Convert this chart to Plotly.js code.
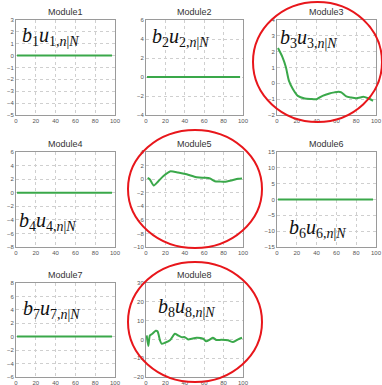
<!DOCTYPE html>
<html><head><meta charset="utf-8">
<script src="https://cdn.plot.ly/plotly-3.0.1.min.js"></script>
<style>html,body{margin:0;padding:0;background:#fff}#chart{width:382px;height:385px}</style>
</head><body><div id="chart"></div>
<script>
// ---- data ----
const moduleNames = ["Module1","Module2","Module3","Module4","Module5","Module6","Module7","Module8"];
const xTicks = [0,20,40,60,80,100];
const flatX = [1,97];
const m1Y = [0,0];
const m2Y = [0,0];
const m4Y = [0,0];
const m6Y = [0,0];
const m7Y = [0.05,0.05];
const m3X = [1,5.5,9,12,16,21,28,34,40,46,53,58,62,65,70,75,80,84,87,92,97];
const m3Y = [2.23,1.66,1.02,0.17,-0.36,-0.79,-0.96,-0.99,-1.0,-0.79,-0.64,-0.57,-0.53,-0.57,-0.83,-0.9,-0.94,-0.9,-0.85,-0.94,-1.1];
const m5X = [1.7,4,8,12.7,18,24.7,33,42,50,55,60.6,66,71,76,81,88,95,99];
const m5Y = [0.2,-0.05,-0.93,-0.3,0.46,1.14,0.98,0.72,0.36,0.25,0.2,0.1,-0.3,-0.35,-0.4,-0.2,0.05,0.1];
const m8X = [0.7,2.4,4,6.5,10,12,14.4,16,19.5,24.7,29.8,33,36.6,40,43.5,47,52,59,62,66,69,72.6,77.7,84.6,89.7,95,99];
const m8Y = [2.1,-3.5,2.1,3,4.6,4.2,-0.5,-2.3,-1.8,-0.5,3,2.1,1.2,1.2,0,0.35,0.9,0.35,-1,0,0.9,-0.35,-0.2,-0.5,-1.4,0,0.9];
const yRanges = [[-5,3],[-4,6],[-2,4],[-8,6],[-10,4],[-15,15],[-6,8],[-20,30]];
const yDtick = [1,2,1,2,2,5,2,10];
const labels = [
  "<i>b</i><sub>1</sub><i>u</i><sub>1,<i>n</i>|<i>N</i></sub>",
  "<i>b</i><sub>2</sub><i>u</i><sub>2,<i>n</i>|<i>N</i></sub>",
  "<i>b</i><sub>3</sub><i>u</i><sub>3,<i>n</i>|<i>N</i></sub>",
  "<i>b</i><sub>4</sub><i>u</i><sub>4,<i>n</i>|<i>N</i></sub>",
  "<i>b</i><sub>6</sub><i>u</i><sub>6,<i>n</i>|<i>N</i></sub>",
  "<i>b</i><sub>7</sub><i>u</i><sub>7,<i>n</i>|<i>N</i></sub>",
  "<i>b</i><sub>8</sub><i>u</i><sub>8,<i>n</i>|<i>N</i></sub>"
];

// ---- layout geometry (pixels) ----
const W = 382, H = 385;
const cols = [[16,115],[146,243],[277,376]];
const rows = [[20,115],[152,247],[283,377]];
const cells = [[0,0],[0,1],[0,2],[1,0],[1,1],[1,2],[2,0],[2,1]];
const seriesX = [flatX,flatX,m3X,flatX,m5X,flatX,flatX,m8X];
const seriesY = [m1Y,m2Y,m3Y,m4Y,m5Y,m6Y,m7Y,m8Y];

const green = "#3aa84a";
const traces = [], layout = {
  width: W, height: H, margin:{l:0,r:0,t:0,b:0},
  paper_bgcolor:"#fff", plot_bgcolor:"#fff", showlegend:false,
  annotations: [], shapes: []
};
const px = x => x / W, py = y => 1 - y / H;

cells.forEach((c, i) => {
  const n = i + 1;
  const xa = "xaxis" + (n===1?"":n), ya = "yaxis" + (n===1?"":n);
  const col = cols[c[1]], row = rows[c[0]];
  const axCommon = {
    showgrid:true, gridcolor:"#cfcfcf", griddash:"dot", gridwidth:1,
    showline:true, linecolor:"#9a9a9a", linewidth:1, mirror:true,
    zeroline:false, ticks:"", ticklen:0,
    tickfont:{family:"Liberation Sans, Arial", size:6, color:"#555"}, fixedrange:true
  };
  layout[xa] = Object.assign({}, axCommon, {
    domain:[px(col[0]), px(col[1])], range:[0,100], tickvals:xTicks,
    anchor:"y"+(n===1?"":n)
  });
  layout[ya] = Object.assign({}, axCommon, {
    domain:[py(row[1]), py(row[0])], range:yRanges[i], dtick:yDtick[i], tick0:0,
    anchor:"x"+(n===1?"":n)
  });
  traces.push({
    x: seriesX[i], y: seriesY[i], type:"scatter", mode:"lines",
    line:{color:green, width:2, shape:"spline", smoothing:0.6},
    xaxis:"x"+(n===1?"":n), yaxis:"y"+(n===1?"":n), hoverinfo:"skip"
  });
  layout.annotations.push({
    xref:"paper", yref:"paper", x:px((col[0]+col[1])/2), y:py(row[0]-1),
    xanchor:"center", yanchor:"bottom", showarrow:false,
    text: moduleNames[i], font:{family:"Liberation Sans, Arial", size:9, color:"#333"}
  });
});

// formula labels: [label index, left px, center y px]
const labelPos = [[0,20,36],[1,150,37],[2,278,38],[3,17,221],[4,287,228],[5,21,309],[6,156,307]];
labelPos.forEach(p => {
  layout.annotations.push({
    xref:"paper", yref:"paper", x:px(p[1]), y:py(p[2]), xanchor:"left", yanchor:"middle",
    showarrow:false, text:labels[p[0]],
    font:{family:"Liberation Serif, Times New Roman, serif", size:20, color:"#111"}
  });
});

// red circles
const circles = [[253,2,382,122],[128,130,262,248],[128,262,262,382]];
circles.forEach(c => layout.shapes.push({
  type:"circle", xref:"paper", yref:"paper",
  x0:px(c[0]), x1:px(c[2]), y0:py(c[3]), y1:py(c[1]),
  line:{color:"#e8161b", width:2}
}));

Plotly.newPlot("chart", traces, layout, {staticPlot:true, displayModeBar:false});
</script></body></html>
